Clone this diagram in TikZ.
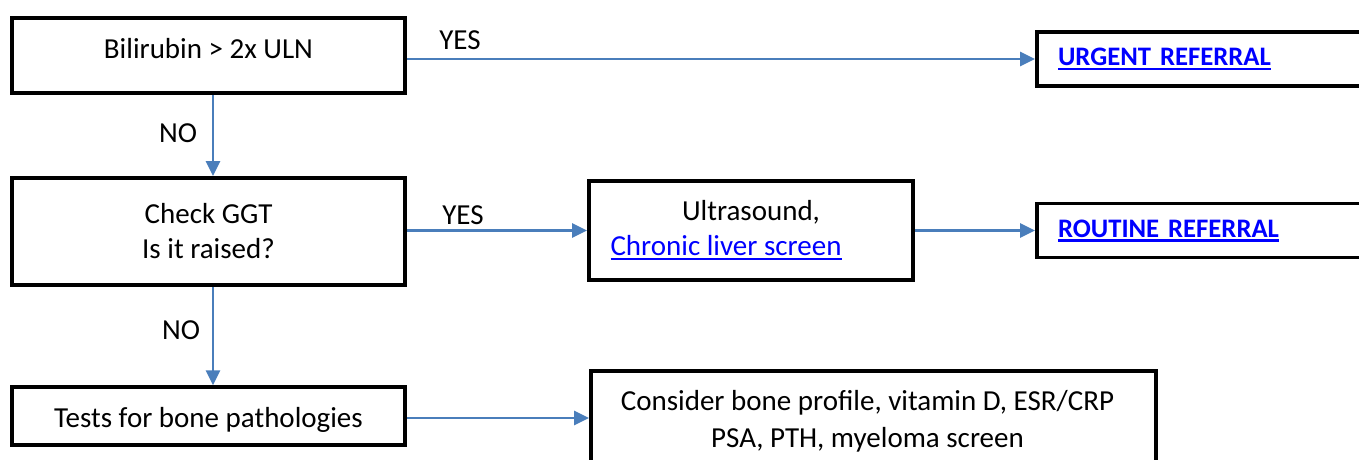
\documentclass[tikz,border=0pt]{standalone}
\usepackage{fontspec}
\setmainfont{Carlito}
\usetikzlibrary{arrows.meta}
\definecolor{flowblue}{RGB}{74,126,187}
\definecolor{linkblue}{RGB}{0,0,255}
\newsavebox{\linkbox}
\newcommand{\weblink}[1]{\textcolor{linkblue}{\sbox{\linkbox}{#1}\rlap{\rule[-4.5pt]{\wd\linkbox}{2.2pt}}\usebox{\linkbox}}}
\tikzset{
    box/.style={draw=black, line width=3.8pt, rectangle, align=center, font=\fontsize{29}{35}\selectfont},
    refbox/.style={box, align=left, text width=360pt, inner xsep=21pt, minimum height=54pt, font=\fontsize{26.7}{32}\selectfont},
    flow/.style={draw=flowblue, line width=2.5pt, -{Triangle[length=15pt,width=14pt]}},
    answer/.style={font=\fontsize{29}{35}\selectfont}
}
\begin{document}
\begin{tikzpicture}[x=1pt,y=-1pt] %LFT raised ALP pathway
        \useasboundingbox (0,0) rectangle (1359,459);
        \clip (0,0) rectangle (1359,459);
        \coordinate (spine) at (213,0);

        \node[box, minimum width=393pt, minimum height=75pt, text height=20pt, text depth=15pt] (bili) at (208.5,55.5) {Bilirubin > 2x ULN};
        \node[box, minimum width=393pt, minimum height=107pt] (ggt) at (208.5,231.5) {Check GGT\\Is it raised?};
        \node[box, minimum width=393pt, minimum height=57.5pt, text height=22pt, text depth=0pt] (bone) at (208.5,416) {Tests for bone pathologies};

        \node[box, minimum width=324pt, minimum height=99pt] (us) at (751,230.5) {Ultrasound,\\\hspace*{-50pt}\weblink{Chronic liver screen}};
        \node[box, minimum width=565pt, minimum height=101pt] (consider) at (873.5,421.5) {Consider bone profile, vitamin D, ESR/CRP\hspace*{12pt}\\[2pt]PSA, PTH, myeloma screen\hspace*{12pt}};

        \node[refbox] (urgent) at (1238,59) {\weblink{\textbf{URGENT REFERRAL}}};
        \node[refbox] (routine) at (1238,230.5) {\weblink{\textbf{ROUTINE REFERRAL}}};

        \draw[flow] (bili.east |- urgent.west) -- (urgent.west);
        \draw[flow] (bili.south -| spine) -- (ggt.north -| spine);
        \draw[flow] (ggt.east |- us.west) -- (us.west);
        \draw[flow] (us.east) -- (routine.west);
        \draw[flow] (ggt.south -| spine) -- (bone.north -| spine);
        \draw[flow] ([yshift=-2pt]bone.east) -- ([yshift=-2pt]bone.east -| consider.west);

        \node[answer] (yes1) at (460,40) {YES};
        \node[answer] (yes2) at (463,215) {YES};
        \node[answer] (no1) at (178,133) {NO};
        \node[answer] (no2) at (181,330) {NO};
\end{tikzpicture}
\end{document}
